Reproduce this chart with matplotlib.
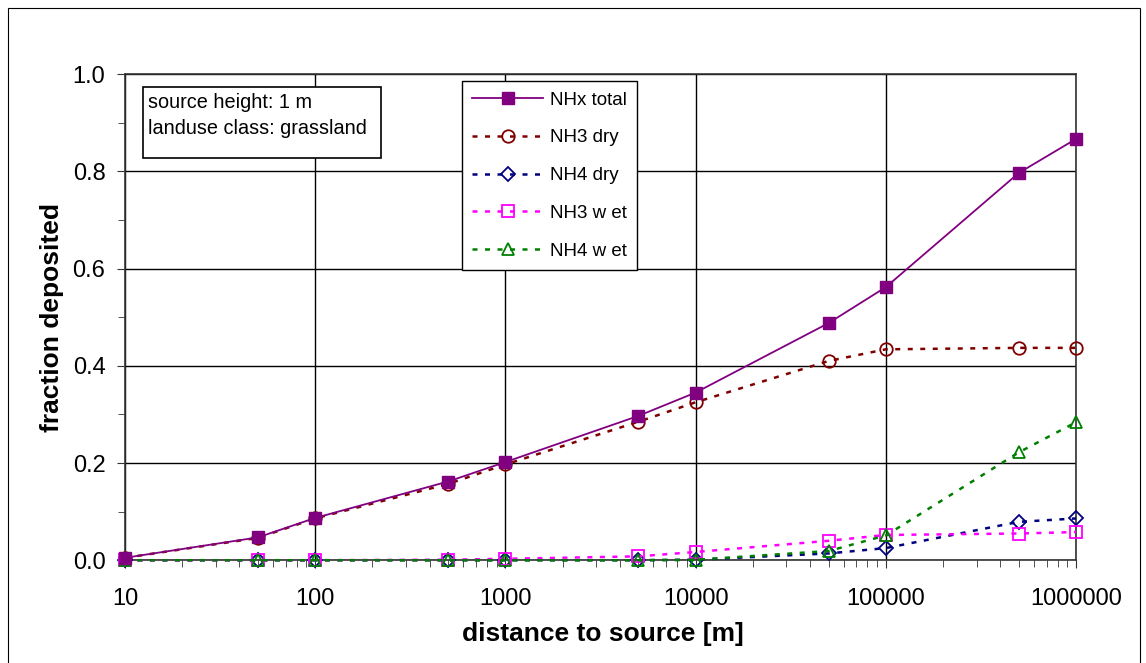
import matplotlib.pyplot as plt
from matplotlib.ticker import FixedLocator, NullFormatter, MultipleLocator
from matplotlib.patches import Rectangle

plt.rcParams['font.family'] = ['Liberation Sans', 'DejaVu Sans']

distance = [10, 50, 100, 500, 1000, 5000, 10000, 50000, 100000, 500000, 1000000]
nhx_total = [0.005, 0.047, 0.087, 0.162, 0.202, 0.297, 0.345, 0.488, 0.562, 0.797, 0.867]
nh3_dry = [0.005, 0.046, 0.086, 0.157, 0.197, 0.285, 0.325, 0.410, 0.434, 0.437, 0.437]
nh4_dry = [0.0, 0.0, 0.0, 0.0, 0.0, 0.0, 0.001, 0.014, 0.025, 0.079, 0.086]
nh3_wet = [0.0, 0.0, 0.0, 0.001, 0.003, 0.008, 0.017, 0.040, 0.052, 0.055, 0.058]
nh4_wet = [0.0, 0.0, 0.0, 0.0, 0.0, 0.0, 0.001, 0.019, 0.051, 0.222, 0.284]

fig = plt.figure(figsize=(11.46, 6.63), dpi=100)
fig.patches.append(Rectangle((0.007, -0.01), 0.988, 0.998, transform=fig.transFigure,
                             fill=False, edgecolor='black', linewidth=0.8))
ax = fig.add_axes([0.109, 0.155, 0.830, 0.733])

dots = (0, (2, 3))
ax.plot(distance, nhx_total, '-', color='#800080', lw=1.3, marker='s', ms=9,
        mfc='#800080', mec='#800080', label='NHx total', zorder=5, clip_on=False)
ax.plot(distance, nh3_dry, ls=dots, color='#800000', lw=1.8, marker='o', ms=9,
        mfc='none', mec='#800000', mew=1.3, label='NH3 dry', zorder=4, clip_on=False)
ax.plot(distance, nh4_dry, ls=dots, color='#000080', lw=1.8, marker='D', ms=7,
        mfc='none', mec='#000080', mew=1.3, label='NH4 dry', zorder=4, clip_on=False)
ax.plot(distance, nh3_wet, ls=dots, color='#FF00FF', lw=1.8, marker='s', ms=9,
        mfc='none', mec='#FF00FF', mew=1.3, label='NH3 w et', zorder=4, clip_on=False)
ax.plot(distance, nh4_wet, ls=dots, color='#008000', lw=1.8, marker='^', ms=9,
        mfc='none', mec='#008000', mew=1.3, label='NH4 w et', zorder=4, clip_on=False)

ax.set_xscale('log')
ax.set_xlim(10, 1000000)
ax.set_ylim(0, 1.0)
ax.set_xticks([10, 100, 1000, 10000, 100000, 1000000])
ax.set_xticklabels(['10', '100', '1000', '10000', '100000', '1000000'])
minors = [m * 10 ** e for e in range(1, 6) for m in range(2, 10)]
ax.xaxis.set_minor_locator(FixedLocator(minors))
ax.xaxis.set_minor_formatter(NullFormatter())
ax.yaxis.set_major_locator(MultipleLocator(0.2))
ax.yaxis.set_minor_locator(MultipleLocator(0.1))
ax.set_yticklabels(['%.1f' % v for v in ax.get_yticks()])

ax.grid(True, which='major', color='black', linewidth=1)
ax.tick_params(which='both', direction='out', labelsize=17, color='#333333')
ax.tick_params(which='major', length=6)
ax.tick_params(which='minor', length=5)
ax.tick_params(axis='x', pad=14)
ax.tick_params(axis='y', pad=8)
for s in ax.spines.values():
    s.set_color('#333333')
    s.set_linewidth(1.2)

ax.set_xlabel('distance to source [m]', fontsize=19, fontweight='bold')
ax.set_ylabel('fraction deposited', fontsize=19, fontweight='bold')
ax.xaxis.set_label_coords(0.502, -0.152)
ax.xaxis.label.set_va('center')
ax.yaxis.set_label_coords(-0.077, 0.5)
ax.yaxis.label.set_va('center')

ax.add_patch(Rectangle((0.019, 0.827), 0.250, 0.146, transform=ax.transAxes,
                       facecolor='white', edgecolor='black', linewidth=1.2, zorder=10))
ax.text(0.024, 0.942, 'source height: 1 m', transform=ax.transAxes,
        fontsize=14.3, va='center', ha='left', zorder=11)
ax.text(0.024, 0.889, 'landuse class: grassland', transform=ax.transAxes,
        fontsize=14.3, va='center', ha='left', zorder=11)

leg = ax.legend(loc='upper left', bbox_to_anchor=(0.354, 0.9856), borderaxespad=0,
                fontsize=13.5, frameon=True, fancybox=False, edgecolor='black',
                handlelength=3.8, handletextpad=0.35, labelspacing=1.1,
                borderpad=0.55, framealpha=1)
leg.get_frame().set_linewidth(1.0)
leg.set_zorder(10)

fig.savefig('out.png', dpi=100)
